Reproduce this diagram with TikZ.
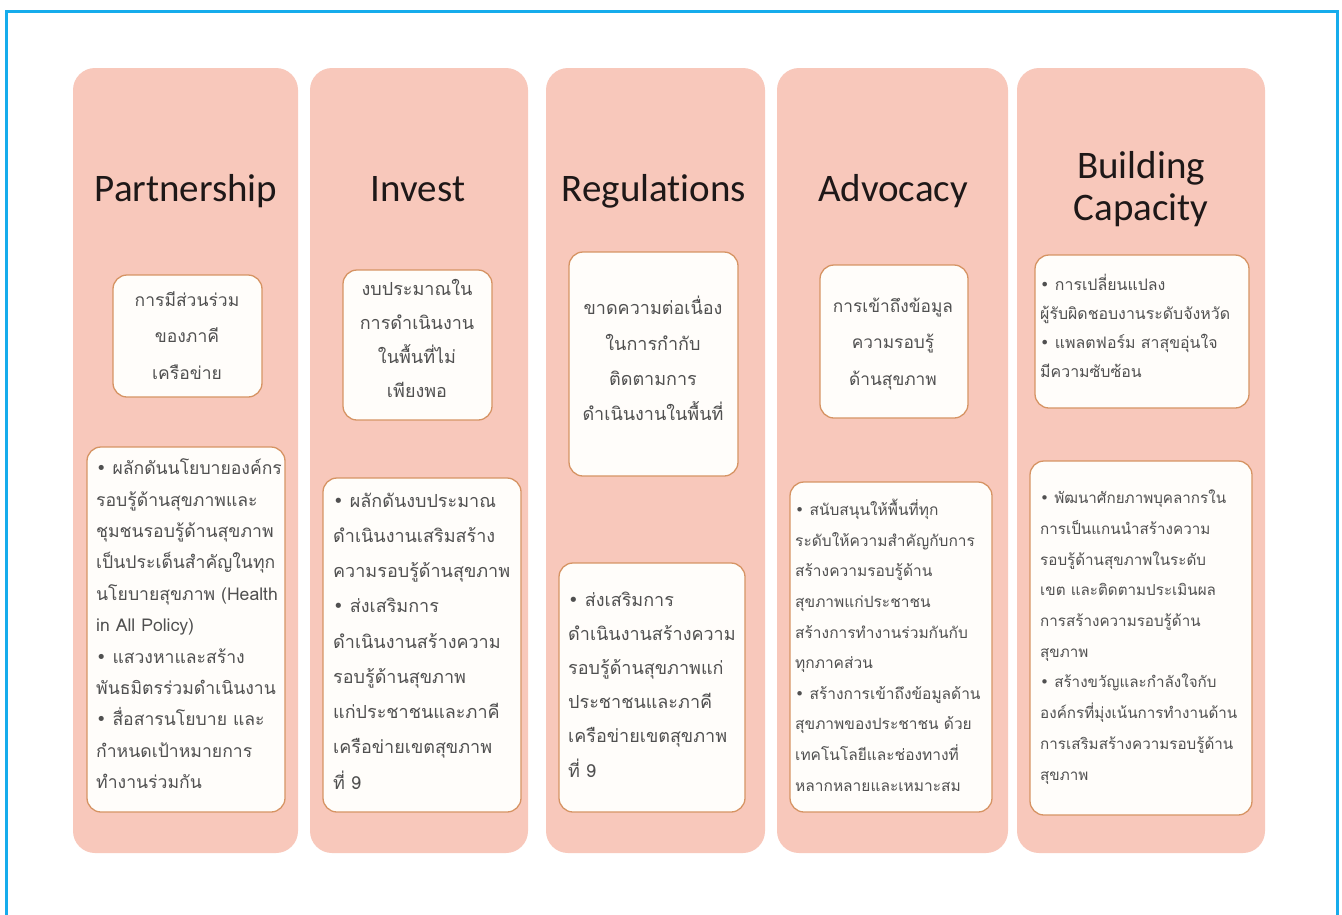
\documentclass[tikz,border=0pt]{standalone}
\usepackage{fontspec}
\setmainfont{Carlito}[Ligatures=NoCommon]
\newfontfamily\thaifont[Script=Thai]{Loma}
\newfontfamily\bulfont{DejaVu Sans}
\newcommand\bul{{\bulfont\char"2022}}
\definecolor{colpink}{RGB}{248,200,187}
\definecolor{boxedge}{RGB}{214,148,100}
\definecolor{boxfill}{RGB}{255,253,250}
\definecolor{framec}{RGB}{22,172,236}
\definecolor{headc}{RGB}{30,24,24}
\definecolor{thaic}{RGB}{80,80,80}
\tikzset{
  col/.style={draw=none, fill=colpink, rounded corners=22pt, inner sep=0pt},
  ibox/.style={draw=boxedge, line width=1.3pt, fill=boxfill, rounded corners=14pt, inner sep=0pt},
  head/.style={font=\fontsize{39}{42}\selectfont, text=headc, inner sep=0pt, anchor=base},
  ttc/.style 2 args={font=\thaifont\fontsize{#1}{#2}\selectfont, text=thaic, inner sep=0pt, anchor=north, align=center},
  ttl/.style 2 args={font=\thaifont\fontsize{#1}{#2}\selectfont, text=thaic, inner sep=0pt, anchor=north west, align=left},
}
\begin{document}
\begin{tikzpicture}[x=1pt,y=-1pt]
\useasboundingbox (0,0) rectangle (1342,914);
\fill[white] (0,0) rectangle (1342,914);
\draw[framec, line width=3pt] (6,916) -- (6,11) -- (1337,11) -- (1337,916);
% columns
\node[col, minimum width=225pt, minimum height=785pt] (c1) at (185.5,460.5) {};
\node[col, minimum width=218pt, minimum height=785pt] (c2) at (419,460.5) {};
\node[col, minimum width=219pt, minimum height=785pt] (c3) at (655.5,460.5) {};
\node[col, minimum width=231pt, minimum height=785pt] (c4) at (892.5,460.5) {};
\node[col, minimum width=248pt, minimum height=785pt] (c5) at (1141,460.5) {};
% headers
\node[head] (h1) at (186,201) {Partnership};
\node[head] (h2) at (418,201) {Invest};
\node[head] (h3) at (654,201) {Regulations};
\node[head] (h4) at (893,201) {Advocacy};
\node[head, align=center] (h5) at (1141,220) {Building\\[0pt]Capacity};
% inner boxes
\node[ibox, minimum width=149pt, minimum height=122pt] (t1) at (187.5,336) {};
\node[ibox, minimum width=198pt, minimum height=365pt] (b1) at (186,629.5) {};
\node[ibox, minimum width=149pt, minimum height=150pt] (t2) at (417.5,345) {};
\node[ibox, minimum width=198pt, minimum height=334pt] (b2) at (422,645) {};
\node[ibox, minimum width=169pt, minimum height=224pt] (t3) at (653.5,364) {};
\node[ibox, minimum width=186pt, minimum height=249pt] (b3) at (652,687.5) {};
\node[ibox, minimum width=148pt, minimum height=153pt] (t4) at (894,341.5) {};
\node[ibox, minimum width=202pt, minimum height=330pt] (b4) at (891,647) {};
\node[ibox, minimum width=214pt, minimum height=153pt] (t5) at (1142,331.5) {};
\node[ibox, minimum width=222pt, minimum height=354pt] (b5) at (1141,638) {};
% texts
\node[ttc={17.5}{36.5}] (x1) at (187,280.5) {\strut การมีส่วนร่วม\\ของภาคี\\เครือข่าย};
\node[ttl={17.6}{31.4}] (y1) at (96,452.5) {\strut\bul\ ผลักดันนโยบายองค์กร\\รอบรู้ด้านสุขภาพและ\\ชุมชนรอบรู้ด้านสุขภาพ\\เป็นประเด็นสำคัญในทุก\\นโยบายสุขภาพ (Health\\in All Policy)\\\bul\ แสวงหาและสร้าง\\พันธมิตรร่วมดำเนินงาน\\\bul\ สื่อสารนโยบาย และ\\กำหนดเป้าหมายการ\\ทำงานร่วมกัน};
\node[ttc={18}{34}] (x2) at (417,271) {\strut งบประมาณใน\\การดำเนินงาน\\ในพื้นที่ไม่\\เพียงพอ};
\node[ttl={18}{35.25}] (y2) at (333,482.3) {\strut\bul\ ผลักดันงบประมาณ\\ดำเนินงานเสริมสร้าง\\ความรอบรู้ด้านสุขภาพ\\\bul\ ส่งเสริมการ\\ดำเนินงานสร้างความ\\รอบรู้ด้านสุขภาพ\\แก่ประชาชนและภาคี\\เครือข่ายเขตสุขภาพ\\ที่ 9};
\node[ttc={18}{35.3}] (x3) at (653,290) {\strut ขาดความต่อเนื่อง\\ในการกำกับ\\ติดตามการ\\ดำเนินงานในพื้นที่};
\node[ttl={18}{34.2}] (y3) at (568,582) {\strut\bul\ ส่งเสริมการ\\ดำเนินงานสร้างความ\\รอบรู้ด้านสุขภาพแก่\\ประชาชนและภาคี\\เครือข่ายเขตสุขภาพ\\ที่ 9};
\node[ttc={17.3}{36.5}] (x4) at (893,286.5) {\strut การเข้าถึงข้อมูล\\ความรอบรู้\\ด้านสุขภาพ};
\node[ttl={15.5}{30.6}] (y4) at (795,494) {\strut\bul\ สนับสนุนให้พื้นที่ทุก\\ระดับให้ความสำคัญกับการ\\สร้างความรอบรู้ด้าน\\สุขภาพแก่ประชาชน\\สร้างการทำงานร่วมกันกับ\\ทุกภาคส่วน\\\bul\ สร้างการเข้าถึงข้อมูลด้าน\\สุขภาพของประชาชน ด้วย\\เทคโนโลยีและช่องทางที่\\หลากหลายและเหมาะสม};
\node[ttl={15.9}{29}] (x5) at (1040,270) {\strut\bul\ การเปลี่ยนแปลง\\ผู้รับผิดชอบงานระดับจังหวัด\\\bul\ แพลตฟอร์ม สาสุขอุ่นใจ\\มีความซับซ้อน};
\node[ttl={15.2}{30.7}] (y5) at (1040,482) {\strut\bul\ พัฒนาศักยภาพบุคลากรใน\\การเป็นแกนนำสร้างความ\\รอบรู้ด้านสุขภาพในระดับ\\เขต และติดตามประเมินผล\\การสร้างความรอบรู้ด้าน\\สุขภาพ\\\bul\ สร้างขวัญและกำลังใจกับ\\องค์กรที่มุ่งเน้นการทำงานด้าน\\การเสริมสร้างความรอบรู้ด้าน\\สุขภาพ};
\end{tikzpicture}
\end{document}
